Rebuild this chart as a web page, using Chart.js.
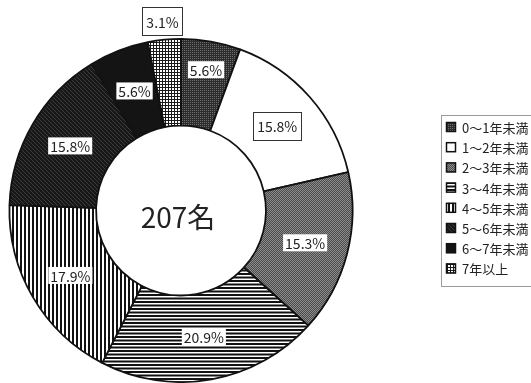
<!DOCTYPE html>
<html>
<head>
<meta charset="utf-8">
<script src="https://cdn.jsdelivr.net/npm/chart.js@4.4.0/dist/chart.umd.min.js"></script>
<style>
    html, body { margin: 0; padding: 0; background: #fff; }
</style>
</head>
<body>
<canvas id="chart" width="531" height="383"></canvas>
<script>
//Years of service, clockwise from 12 o'clock
const categories = [
    '0～1年未満',
    '1～2年未満',
    '2～3年未満',
    '3～4年未満',
    '4～5年未満',
    '5～6年未満',
    '6～7年未満',
    '7年以上'
];

//Share of staff in each group (%)
const percentages = [5.6, 15.8, 15.3, 20.9, 17.9, 15.8, 5.6, 3.1];

//Total shown in the hole
const total_text = '207名';

const canvas = document.getElementById('chart');
const main_ctx = canvas.getContext('2d');

//Builds a repeating fill from a small tile
function makePattern(w, h, draw) {
    const tile = document.createElement('canvas');
    tile.width = w;
    tile.height = h;
    const t = tile.getContext('2d');
    draw(t, w, h);
    return main_ctx.createPattern(tile, 'repeat');
}

//One fill per group, same order as categories
const fills = [
    //fine dark dots
    makePattern(2, 2, function(t) {
        t.fillStyle = '#2c2c2c';
        t.fillRect(0, 0, 2, 2);
        t.fillStyle = '#6e6e6e';
        t.fillRect(0, 0, 1, 1);
    }),
    '#ffffff',
    //grey dots
    makePattern(2, 2, function(t) {
        t.fillStyle = '#4c4c4c';
        t.fillRect(0, 0, 2, 2);
        t.fillStyle = '#8c8c8c';
        t.fillRect(0, 0, 1, 1);
        t.fillRect(1, 1, 1, 1);
    }),
    //horizontal stripes
    makePattern(7, 7, function(t) {
        t.fillStyle = '#ffffff';
        t.fillRect(0, 0, 7, 7);
        t.fillStyle = '#111111';
        t.fillRect(0, 0, 7, 2);
        t.fillRect(0, 3.5, 7, 2);
    }),
    //vertical stripes
    makePattern(4, 4, function(t) {
        t.fillStyle = '#ffffff';
        t.fillRect(0, 0, 4, 4);
        t.fillStyle = '#111111';
        t.fillRect(0, 0, 2, 4);
    }),
    //dark diagonal hatch
    makePattern(4, 4, function(t) {
        t.fillStyle = '#181818';
        t.fillRect(0, 0, 4, 4);
        t.fillStyle = '#3c3c3c';
        for (var i = 0; i < 4; i++) {
            t.fillRect(i, i, 1, 1);
        }
    }),
    '#141414',
    //grid
    makePattern(3, 3, function(t) {
        t.fillStyle = '#ffffff';
        t.fillRect(0, 0, 3, 3);
        t.fillStyle = '#1a1a1a';
        t.fillRect(0, 0, 3, 1);
        t.fillRect(0, 0, 1, 3);
    })
];

//Percent labels sitting on the ring
const sliceLabels = {
    id: 'sliceLabels',
    afterDatasetsDraw(chart, args, opts) {
        const ctx = chart.ctx;
        const meta = chart.getDatasetMeta(0);

        ctx.save();
        ctx.font = opts.font;
        ctx.textAlign = 'center';
        ctx.textBaseline = 'middle';

        meta.data.forEach(function(arc, i) {
            const p = arc.getProps(['x', 'y', 'startAngle', 'endAngle', 'innerRadius', 'outerRadius']);
            const mid = (p.startAngle + p.endAngle) / 2;
            const r = opts.radius[i] || (p.innerRadius + p.outerRadius) / 2;
            const x = p.x + Math.cos(mid) * r;
            const y = p.y + Math.sin(mid) * r;

            const text = percentages[i].toFixed(1) + '%';
            const w = ctx.measureText(text).width;
            const boxed = opts.boxed.indexOf(i) != -1;
            const bw = w + (boxed ? 8 : 4);
            const bh = boxed ? 28 : 17;

            ctx.fillStyle = '#ffffff';
            ctx.fillRect(x - bw / 2, y - bh / 2, bw, bh);
            if (boxed) {
                ctx.strokeStyle = '#333333';
                ctx.lineWidth = 1;
                ctx.strokeRect(Math.round(x - bw / 2) + 0.5, Math.round(y - bh / 2) + 0.5, Math.round(bw), Math.round(bh));
            }

            ctx.fillStyle = '#222222';
            ctx.fillText(text, x, y + 1);
        });

        //Total in the middle
        const c = meta.data[0];
        ctx.font = opts.centerFont;
        ctx.fillText(total_text, c.x - 3, c.y + 7);

        ctx.restore();
    }
};

//Legend in a frame to the right
const boxedLegend = {
    id: 'boxedLegend',
    afterDraw(chart, args, opts) {
        const ctx = chart.ctx;
        const ds = chart.data.datasets[0];

        ctx.save();
        ctx.strokeStyle = '#9a9a9a';
        ctx.lineWidth = 1;
        ctx.strokeRect(opts.left + 0.5, opts.top + 0.5, 200, opts.height);

        ctx.font = opts.font;
        ctx.textAlign = 'left';
        ctx.textBaseline = 'middle';

        chart.data.labels.forEach(function(label, i) {
            const y = opts.top + opts.first + i * opts.step;

            ctx.fillStyle = ds.backgroundColor[i];
            ctx.fillRect(opts.left + 5, y - 5, 10, 10);
            ctx.strokeStyle = '#111111';
            ctx.lineWidth = 1.5;
            ctx.strokeRect(opts.left + 5.5, y - 4.5, 9, 9);

            ctx.fillStyle = '#222222';
            ctx.fillText(label, opts.left + 21, y + 1);
        });

        ctx.restore();
    }
};

const chart = new Chart(canvas, {
    type: 'doughnut',
    data: {
        labels: categories,
        datasets: [{
            data: percentages,
            backgroundColor: fills,
            borderColor: '#111111',
            borderWidth: 1.8
        }]
    },
    options: {
        responsive: false,
        animation: false,
        cutout: '49.5%',
        layout: {
            padding: { left: 7, top: 38, right: 176, bottom: -3 }
        },
        plugins: {
            legend: { display: false },
            tooltip: { enabled: false },
            sliceLabels: {
                font: '14px "Noto Sans CJK JP", "Noto Sans", sans-serif',
                centerFont: '28px "Noto Sans CJK JP", "Noto Sans", sans-serif',
                radius: { 0: 143, 7: 190 },
                boxed: [1, 7]
            },
            boxedLegend: {
                left: 441,
                top: 115,
                height: 171,
                first: 12,
                step: 20.2,
                font: '13px "Noto Sans CJK JP", "Noto Sans", sans-serif'
            }
        }
    },
    plugins: [sliceLabels, boxedLegend]
});
</script>
</body>
</html>
